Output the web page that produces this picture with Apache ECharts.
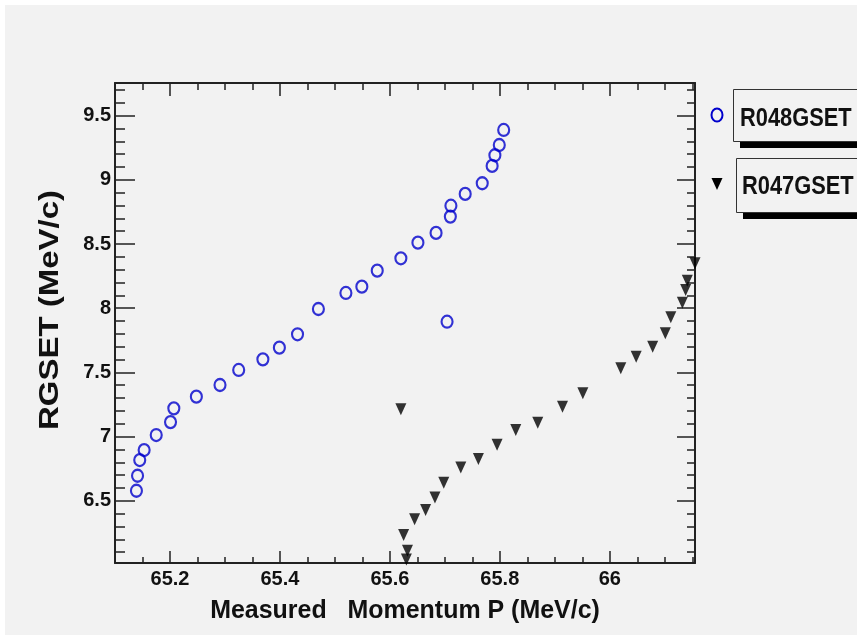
<!DOCTYPE html>
<html>
<head>
<meta charset="utf-8">
<script src="https://cdn.jsdelivr.net/npm/echarts@6/dist/echarts.min.js"></script>
<style>
  html, body { margin: 0; padding: 0; background: #ffffff; }
  #chart { width: 857px; height: 637px; }
</style>
</head>
<body>
<div id="chart"></div>
<script>
// ---- Data: R048GSET (open circles) ----
const r048X = [65.139, 65.141, 65.145, 65.153, 65.175, 65.201, 65.207, 65.248, 65.291, 65.325,
               65.369, 65.399, 65.432, 65.470, 65.520, 65.549, 65.577, 65.620, 65.651, 65.684,
               65.710, 65.711, 65.737, 65.768, 65.786, 65.791, 65.799, 65.807, 65.704];
const r048Y = [6.578, 6.695, 6.817, 6.895, 7.012, 7.113, 7.220, 7.311, 7.402, 7.519,
               7.602, 7.693, 7.797, 7.994, 8.119, 8.168, 8.293, 8.389, 8.511, 8.587,
               8.714, 8.799, 8.891, 8.974, 9.109, 9.192, 9.272, 9.389, 7.895];

// ---- Data: R047GSET (filled down triangles) ----
const r047X = [65.620, 65.625, 65.632, 65.630, 65.645, 65.665, 65.682, 65.698, 65.729, 65.761,
               65.795, 65.829, 65.869, 65.914, 65.951, 66.020, 66.048, 66.078, 66.101, 66.111,
               66.132, 66.138, 66.141, 66.155];
const r047Y = [7.212, 6.233, 6.110, 6.043, 6.355, 6.428, 6.526, 6.640, 6.760, 6.825,
               6.937, 7.051, 7.108, 7.233, 7.337, 7.532, 7.622, 7.700, 7.805, 7.929,
               8.043, 8.142, 8.215, 8.350];

// ---- Axis ticks ----
const xMajor = [65.2, 65.4, 65.6, 65.8, 66.0];
const xMinor = [65.15, 65.25, 65.3, 65.35, 65.45, 65.5, 65.55, 65.65, 65.7, 65.75,
                65.85, 65.9, 65.95, 66.05, 66.1, 66.15];
const yMajor = [6.5, 7.0, 7.5, 8.0, 8.5, 9.0, 9.5];
const yMinor = [6.1, 6.2, 6.3, 6.4, 6.6, 6.7, 6.8, 6.9, 7.1, 7.2, 7.3, 7.4, 7.6, 7.7, 7.8, 7.9,
                8.1, 8.2, 8.3, 8.4, 8.6, 8.7, 8.8, 8.9, 9.1, 9.2, 9.3, 9.4, 9.6, 9.7];

const seriesNames = ['R048GSET', 'R047GSET'];
const xTitle = 'Measured   Momentum P (MeV/c)';
const yTitle = 'RGSET (MeV/c)';

const X_MIN = 65.1, X_MAX = 66.155, Y_MIN = 6.015, Y_MAX = 9.755;
const FONT = '"Liberation Sans", Arial, Helvetica, sans-serif';
const LINE = '#222222';

function xAxisDef(pos, vals, len, showLine, showLabel) {
  return {
    type: 'value', position: pos, min: X_MIN, max: X_MAX,
    splitLine: { show: false },
    axisLine: { show: showLine, onZero: false, lineStyle: { color: LINE, width: 2 } },
    axisTick: { show: true, inside: true, length: len, customValues: vals,
                lineStyle: { color: LINE, width: 1.5 } },
    axisLabel: showLabel ? { show: true, customValues: vals, margin: 6,
                fontFamily: FONT, fontWeight: 'bold', fontSize: 20, color: '#111' }
                         : { show: false }
  };
}
function yAxisDef(pos, vals, len, showLine, showLabel) {
  return {
    type: 'value', position: pos, min: Y_MIN, max: Y_MAX,
    splitLine: { show: false },
    axisLine: { show: showLine, onZero: false, lineStyle: { color: LINE, width: 2 } },
    axisTick: { show: true, inside: true, length: len, customValues: vals,
                lineStyle: { color: LINE, width: 1.5 } },
    axisLabel: showLabel ? { show: true, customValues: vals, margin: 4,
                fontFamily: FONT, fontWeight: 'bold', fontSize: 20, color: '#111' }
                         : { show: false }
  };
}

const chart = echarts.init(document.getElementById('chart'), null, { renderer: 'canvas' });

const option = {
  animation: false,
  backgroundColor: '#ffffff',
  grid: { left: 115, right: 162, top: 83, bottom: 74, show: true,
          backgroundColor: '#f2f2f2', borderWidth: 0 },
  xAxis: [
    xAxisDef('bottom', xMajor, 12, true, true),
    xAxisDef('bottom', xMinor, 6, false, false),
    xAxisDef('top', xMajor, 13, true, false),
    xAxisDef('top', xMinor, 7, false, false)
  ],
  yAxis: [
    yAxisDef('left', yMajor, 20, true, true),
    yAxisDef('left', yMinor, 10, false, false),
    yAxisDef('right', yMajor, 18, true, false),
    yAxisDef('right', yMinor, 8, false, false)
  ],
  series: [
    {
      name: seriesNames[0], type: 'scatter', xAxisIndex: 0, yAxisIndex: 0,
      symbol: 'circle', symbolSize: [11, 12],
      itemStyle: { color: 'rgba(0,0,0,0)', borderColor: '#0000cc', borderWidth: 2.2 },
      data: r048X.map((x, i) => [x, r048Y[i]])
    },
    {
      name: seriesNames[1], type: 'scatter', xAxisIndex: 0, yAxisIndex: 0,
      symbol: 'path://M0,0L10,0L5,10Z', symbolSize: [11, 12],
      itemStyle: { color: '#000000' },
      data: r047X.map((x, i) => [x, r047Y[i]])
    }
  ],
  graphic: [
    { type: 'rect', z: -10, silent: true, shape: { x: 5, y: 5, width: 852, height: 630 },
      style: { fill: '#f2f2f2' } },
    // axis titles
    { type: 'text', x: 405, y: 611, scaleX: 0.96,
      style: { text: xTitle, font: 'bold 26px ' + FONT,
      fill: '#111', align: 'center', verticalAlign: 'middle' } },
    { type: 'text', x: 50, y: 310, rotation: Math.PI / 2, scaleY: 0.85,
      style: { text: yTitle, font: 'bold 33px ' + FONT, fill: '#111',
      align: 'center', verticalAlign: 'middle' } },
    // legend box 1
    { type: 'rect', shape: { x: 740, y: 96, width: 130, height: 52 }, style: { fill: '#000' } },
    { type: 'rect', shape: { x: 733.5, y: 89.5, width: 130, height: 52 },
      style: { fill: '#f2f2f2', stroke: '#333', lineWidth: 1 } },
    { type: 'text', x: 740, y: 119, scaleX: 0.84,
      style: { text: seriesNames[0], font: 'bold 26px ' + FONT, fill: '#111',
      align: 'left', verticalAlign: 'middle' } },
    { type: 'ellipse', shape: { cx: 717, cy: 115, rx: 5.5, ry: 6.5 },
      style: { fill: 'none', stroke: '#0000cc', lineWidth: 2 } },
    // legend box 2
    { type: 'rect', shape: { x: 743, y: 165, width: 130, height: 54 }, style: { fill: '#000' } },
    { type: 'rect', shape: { x: 736.5, y: 158.5, width: 130, height: 54 },
      style: { fill: '#f2f2f2', stroke: '#333', lineWidth: 1 } },
    { type: 'text', x: 742, y: 187, scaleX: 0.84,
      style: { text: seriesNames[1], font: 'bold 26px ' + FONT, fill: '#111',
      align: 'left', verticalAlign: 'middle' } },
    { type: 'polygon', shape: { points: [[711.5, 178], [722.5, 178], [717, 190]] },
      style: { fill: '#000' } }
  ]
};
chart.setOption(option);
</script>
</body>
</html>
